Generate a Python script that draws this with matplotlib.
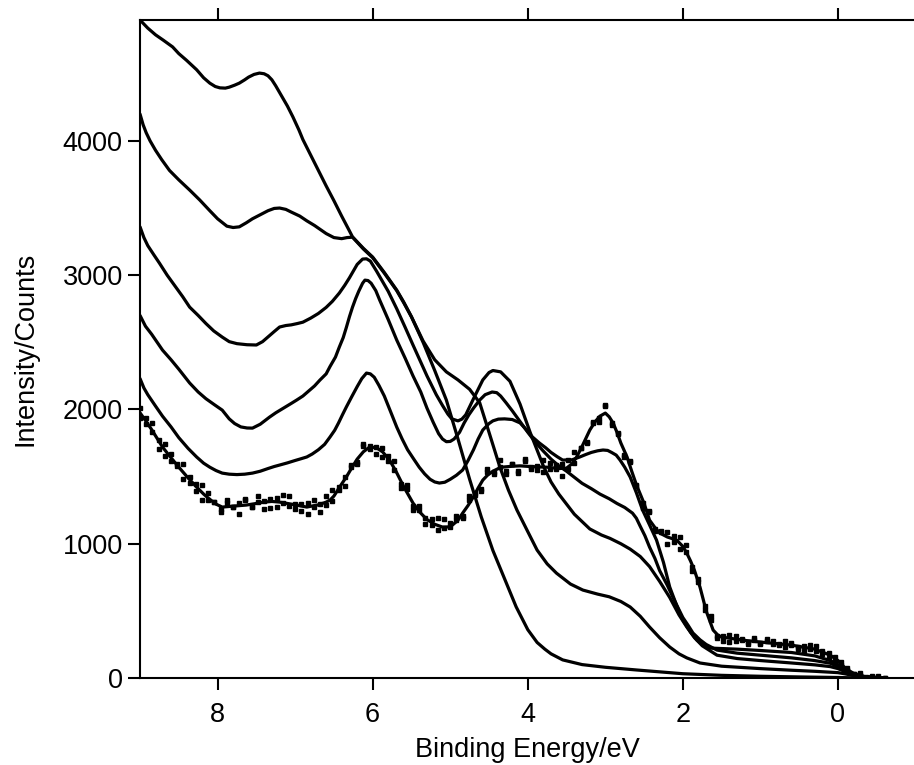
import matplotlib
matplotlib.use("Agg")
import matplotlib.pyplot as plt
import numpy as np

plt.rcParams['font.family'] = ['Liberation Sans', 'DejaVu Sans']

# spectra: (binding energy / eV, counts)
curve_a = [(9.0, 4900), (8.9, 4840), (8.8, 4790), (8.7, 4750), (8.58, 4700), (8.5, 4650),
           (8.4, 4600), (8.27, 4530), (8.18, 4470), (8.1, 4430), (8.03, 4405), (7.97, 4395),
           (7.9, 4393), (7.85, 4400), (7.78, 4415), (7.72, 4430), (7.65, 4455), (7.6, 4475),
           (7.53, 4495), (7.46, 4505), (7.4, 4500), (7.35, 4485), (7.3, 4455), (7.25, 4410),
           (7.2, 4360), (7.15, 4310), (7.1, 4260), (7.03, 4180), (6.95, 4080), (6.9, 4010),
           (6.8, 3895), (6.7, 3780), (6.6, 3665), (6.5, 3555), (6.4, 3440), (6.3, 3330),
           (6.26, 3285), (6.12, 3200), (6.0, 3135), (5.85, 3020), (5.69, 2889), (5.6, 2800),
           (5.5, 2690), (5.35, 2500), (5.2, 2290), (5.05, 2070), (4.9, 1780), (4.75, 1480),
           (4.6, 1200), (4.45, 950), (4.3, 740), (4.15, 530), (4.0, 360), (3.88, 265),
           (3.78, 215), (3.7, 180), (3.55, 135), (3.3, 100), (3.0, 80), (2.6, 60), (2.0, 32),
           (1.5, 20), (1.0, 13), (0.5, 8), (0.0, 4), (-0.3, 0), (-0.6, 0)]

curve_b = [(9.0, 4200), (8.96, 4120), (8.92, 4060), (8.87, 4000), (8.8, 3930), (8.72, 3860),
           (8.62, 3780), (8.5, 3710), (8.36, 3634), (8.23, 3560), (8.1, 3480), (8.0, 3420),
           (7.88, 3365), (7.8, 3355), (7.72, 3360), (7.63, 3390), (7.55, 3420), (7.45, 3450),
           (7.35, 3480), (7.27, 3497), (7.2, 3500), (7.12, 3490), (7.05, 3470), (6.94, 3440),
           (6.85, 3405), (6.75, 3370), (6.6, 3310), (6.5, 3280), (6.4, 3272), (6.33, 3280),
           (6.26, 3283), (6.12, 3195), (6.0, 3130), (5.85, 3015), (5.69, 2885), (5.6, 2795),
           (5.5, 2690), (5.35, 2510), (5.2, 2370), (5.05, 2280), (4.9, 2220), (4.75, 2150),
           (4.62, 2050), (4.5, 1830), (4.36, 1571), (4.25, 1400), (4.14, 1251), (4.0, 1090),
           (3.88, 953), (3.75, 850), (3.63, 781), (3.45, 700), (3.29, 655), (3.1, 625),
           (2.95, 605), (2.8, 570), (2.68, 529), (2.55, 460), (2.43, 380), (2.3, 300),
           (2.17, 231), (2.05, 180), (1.95, 150), (1.78, 112), (1.5, 88), (1.0, 70),
           (0.6, 58), (0.3, 50), (0.0, 40), (-0.1, 30), (-0.2, 18), (-0.35, 5), (-0.6, 0)]

curve_c = [(9.0, 3360), (8.95, 3280), (8.9, 3220), (8.82, 3150), (8.75, 3090), (8.65, 3000),
           (8.55, 2920), (8.45, 2840), (8.36, 2762), (8.25, 2700), (8.15, 2640), (8.05, 2585),
           (7.94, 2539), (7.85, 2505), (7.75, 2490), (7.62, 2482), (7.5, 2480), (7.42, 2505),
           (7.35, 2540), (7.27, 2580), (7.2, 2614), (7.12, 2625), (7.05, 2630), (6.97, 2640),
           (6.9, 2650), (6.8, 2680), (6.7, 2715), (6.6, 2760), (6.52, 2805), (6.43, 2867),
           (6.36, 2925), (6.3, 2980), (6.2, 3080), (6.13, 3120), (6.08, 3122), (6.03, 3105),
           (5.95, 3030), (5.88, 2960), (5.8, 2880), (5.69, 2750), (5.58, 2610), (5.48, 2480),
           (5.3, 2250), (5.18, 2110), (5.1, 2030), (5.03, 1965), (4.98, 1930), (4.9, 1915),
           (4.85, 1928), (4.8, 1960), (4.7, 2080), (4.58, 2220), (4.5, 2275), (4.45, 2290),
           (4.35, 2280), (4.23, 2210), (4.1, 2040), (3.97, 1830), (3.8, 1580), (3.7, 1460),
           (3.6, 1370), (3.4, 1220), (3.2, 1110), (3.05, 1065), (2.94, 1040), (2.8, 1000),
           (2.68, 960), (2.55, 905), (2.43, 830), (2.3, 720), (2.17, 600), (2.05, 470),
           (1.95, 380), (1.85, 300), (1.75, 240), (1.56, 170), (1.3, 145), (1.0, 130),
           (0.6, 112), (0.3, 98), (0.1, 85), (0.0, 70), (-0.1, 45), (-0.2, 25), (-0.35, 7),
           (-0.6, 0)]

curve_d = [(9.0, 2700), (8.93, 2620), (8.85, 2560), (8.71, 2442), (8.6, 2370), (8.5, 2300),
           (8.36, 2197), (8.25, 2130), (8.15, 2080), (8.04, 2035), (7.94, 1995), (7.85, 1930),
           (7.78, 1895), (7.7, 1870), (7.62, 1862), (7.55, 1861), (7.45, 1890), (7.33, 1943),
           (7.25, 1975), (7.15, 2010), (7.05, 2045), (6.98, 2070), (6.9, 2100), (6.82, 2140),
           (6.75, 2175), (6.68, 2219), (6.6, 2265), (6.55, 2320), (6.48, 2390), (6.43, 2465),
           (6.38, 2535), (6.34, 2610), (6.3, 2690), (6.26, 2762), (6.22, 2825), (6.18, 2880),
           (6.13, 2940), (6.1, 2963), (6.06, 2960), (6.02, 2940), (5.96, 2885), (5.91, 2815),
           (5.8, 2670), (5.69, 2517), (5.58, 2380), (5.48, 2250), (5.38, 2130), (5.3, 2010),
           (5.22, 1905), (5.15, 1820), (5.1, 1780), (5.05, 1760), (5.0, 1762), (4.95, 1780),
           (4.88, 1830), (4.82, 1900), (4.76, 1960), (4.7, 2010), (4.62, 2070), (4.55, 2110),
           (4.46, 2130), (4.4, 2125), (4.35, 2100), (4.28, 2050), (4.2, 1990), (4.1, 1910),
           (4.0, 1830), (3.9, 1755), (3.8, 1690), (3.7, 1630), (3.6, 1580), (3.5, 1540),
           (3.4, 1495), (3.3, 1450), (3.18, 1410), (3.07, 1370), (2.95, 1335), (2.85, 1300),
           (2.75, 1270), (2.65, 1228), (2.6, 1190), (2.55, 1130), (2.49, 1060), (2.43, 975),
           (2.36, 890), (2.3, 800), (2.2, 690), (2.13, 603), (2.06, 520), (2.0, 450),
           (1.93, 390), (1.87, 335), (1.78, 285), (1.7, 250), (1.56, 208), (1.3, 185),
           (1.0, 170), (0.6, 150), (0.3, 130), (0.1, 110), (0.0, 85), (-0.1, 50),
           (-0.2, 28), (-0.35, 8), (-0.6, 0)]

curve_e = [(9.0, 2230), (8.95, 2160), (8.9, 2110), (8.8, 2025), (8.71, 1950), (8.6, 1870),
           (8.5, 1790), (8.38, 1710), (8.27, 1646), (8.18, 1600), (8.1, 1570), (8.02, 1545),
           (7.94, 1526), (7.85, 1518), (7.75, 1515), (7.65, 1518), (7.55, 1526), (7.45, 1540),
           (7.35, 1560), (7.27, 1575), (7.2, 1586), (7.1, 1602), (7.0, 1620), (6.93, 1632),
           (6.85, 1646), (6.78, 1668), (6.7, 1700), (6.62, 1740), (6.55, 1795), (6.49, 1845),
           (6.44, 1900), (6.39, 1960), (6.34, 2018), (6.27, 2095), (6.2, 2170), (6.14, 2230),
           (6.08, 2271), (6.03, 2265), (5.98, 2240), (5.92, 2180), (5.85, 2100), (5.77, 1985),
           (5.69, 1869), (5.62, 1780), (5.55, 1700), (5.47, 1630), (5.4, 1570), (5.33, 1520),
           (5.26, 1480), (5.2, 1460), (5.14, 1452), (5.07, 1458), (5.0, 1480), (4.92, 1510),
           (4.84, 1549), (4.77, 1620), (4.7, 1700), (4.64, 1780), (4.58, 1847), (4.5, 1895),
           (4.45, 1915), (4.38, 1928), (4.3, 1930), (4.2, 1925), (4.1, 1900), (4.02, 1850),
           (3.95, 1800), (3.85, 1750), (3.77, 1715), (3.7, 1680), (3.62, 1648), (3.55, 1623),
           (3.43, 1625), (3.33, 1646), (3.25, 1665), (3.18, 1680), (3.1, 1692), (3.03, 1698),
           (2.97, 1695), (2.92, 1680), (2.86, 1660), (2.81, 1623), (2.75, 1570), (2.68, 1497),
           (2.6, 1380), (2.52, 1251), (2.43, 1140), (2.34, 1027), (2.25, 860), (2.17, 678),
           (2.08, 540), (2.0, 432), (1.9, 340), (1.82, 283), (1.74, 245), (1.65, 223),
           (1.3, 215), (1.0, 205), (0.6, 190), (0.3, 165), (0.1, 130), (0.0, 100),
           (-0.1, 55), (-0.2, 30), (-0.35, 8), (-0.6, 0)]

# smooth line through the measured (dotted) spectrum
fit_line = [(9.0, 1975), (8.92, 1910), (8.85, 1850), (8.71, 1720), (8.6, 1640), (8.5, 1570),
            (8.38, 1490), (8.27, 1422), (8.18, 1370), (8.1, 1330), (8.02, 1295), (7.94, 1273),
            (7.8, 1280), (7.63, 1288), (7.5, 1300), (7.4, 1310), (7.3, 1315), (7.2, 1310),
            (7.1, 1300), (7.0, 1290), (6.85, 1273), (6.7, 1290), (6.6, 1310), (6.55, 1325),
            (6.5, 1355), (6.45, 1400), (6.4, 1445), (6.34, 1497), (6.27, 1565), (6.2, 1630),
            (6.12, 1685), (6.04, 1720), (5.95, 1715), (5.87, 1683), (5.78, 1620), (5.7, 1540),
            (5.6, 1425), (5.48, 1303), (5.4, 1240), (5.3, 1180), (5.2, 1145), (5.1, 1124),
            (5.03, 1125), (4.97, 1140), (4.9, 1175), (4.84, 1228), (4.77, 1285), (4.7, 1350),
            (4.64, 1415), (4.58, 1474), (4.52, 1510), (4.45, 1540), (4.38, 1560), (4.32, 1571),
            (4.2, 1577), (4.1, 1580), (3.97, 1575), (3.85, 1572), (3.75, 1570), (3.6, 1560),
            (3.5, 1563), (3.43, 1595), (3.37, 1646), (3.3, 1725), (3.2, 1847), (3.13, 1910),
            (3.07, 1950), (3.0, 1973), (2.95, 1945), (2.9, 1899), (2.85, 1830), (2.8, 1750),
            (2.72, 1646), (2.66, 1540), (2.6, 1440), (2.55, 1370), (2.5, 1300), (2.43, 1176),
            (2.36, 1120), (2.3, 1080), (2.2, 1050), (2.08, 1027), (2.0, 980), (1.95, 930),
            (1.9, 870), (1.85, 800), (1.78, 678), (1.74, 590), (1.7, 500), (1.65, 420),
            (1.61, 357), (1.55, 320), (1.5, 305), (1.2, 280), (0.9, 262), (0.6, 245),
            (0.3, 215), (0.1, 170), (0.0, 130), (-0.1, 70), (-0.2, 35), (-0.35, 10),
            (-0.6, 0)]

# raw data points (scatter around the fit)
dots_e = [9.00, 8.92, 8.84, 8.76, 8.68, 8.60, 8.52, 8.44, 8.36, 8.28, 8.20, 8.12, 8.04, 7.96,
          7.88, 7.80, 7.72, 7.64, 7.56, 7.48, 7.40, 7.32, 7.24, 7.16, 7.08, 7.00, 6.92, 6.84,
          6.76, 6.68, 6.60, 6.52, 6.44, 6.36, 6.28, 6.20, 6.12, 6.04, 5.96, 5.88, 5.80, 5.72,
          5.64, 5.56, 5.48, 5.40, 5.32, 5.24, 5.16, 5.08, 5.00, 4.92, 4.84, 4.76, 4.68, 4.60,
          4.52, 4.44, 4.36, 4.28, 4.20, 4.12, 4.04, 3.96, 3.88, 3.80, 3.72, 3.64, 3.56, 3.48,
          3.40, 3.32, 3.24, 3.16, 3.08, 3.00, 2.92, 2.84, 2.76, 2.68, 2.60, 2.52, 2.44, 2.36,
          2.28, 2.20, 2.12, 2.04, 1.96, 1.88, 1.80, 1.72, 1.64, 1.56, 1.48, 1.40, 1.32, 1.24,
          1.16, 1.08, 1.00, 0.92, 0.84, 0.76, 0.68, 0.60, 0.52, 0.44, 0.36, 0.28, 0.20, 0.12,
          0.04, -0.04, -0.12, -0.20, -0.28, -0.36, -0.44, -0.52, -0.60]
dots_a = [2010, 1888, 1896, 1771, 1654, 1666, 1579, 1591, 1450, 1443, 1329, 1381, 1309, 1255,
          1326, 1270, 1304, 1323, 1275, 1357, 1315, 1269, 1337, 1301, 1358, 1260, 1296, 1219,
          1323, 1295, 1285, 1397, 1399, 1499, 1589, 1610, 1740, 1725, 1671, 1712, 1619, 1617,
          1445, 1404, 1248, 1280, 1194, 1138, 1191, 1116, 1156, 1209, 1208, 1353, 1376, 1408,
          1535, 1537, 1621, 1543, 1592, 1524, 1618, 1575, 1548, 1621, 1558, 1583, 1596, 1556,
          1682, 1710, 1755, 1904, 1937, 2033, 1884, 1825, 1643, 1617, 1440, 1303, 1244, 1110,
          1095, 1085, 1015, 1052, 942, 794, 738, 540, 465, 295, 311, 270, 310, 283,
          266, 298, 263, 273, 277, 244, 278, 247, 215, 241, 219, 241, 178, 183,
          118, 116, 63, 29, 34, 7, 11, 12, 2]
dots_b = [1935, 1938, 1831, 1706, 1744, 1616, 1594, 1481, 1500, 1393, 1439, 1326, 1314, 1240,
          1306, 1270, 1224, 1333, 1270, 1312, 1260, 1334, 1277, 1361, 1283, 1295, 1241, 1304,
          1273, 1235, 1355, 1322, 1419, 1429, 1574, 1595, 1730, 1705, 1721, 1647, 1654, 1547,
          1415, 1434, 1278, 1250, 1144, 1183, 1106, 1181, 1121, 1179, 1188, 1328, 1361, 1393,
          1555, 1517, 1571, 1523, 1597, 1544, 1633, 1560, 1578, 1531, 1598, 1553, 1501, 1621,
          1602, 1715, 1750, 1899, 1907, 2028, 1899, 1815, 1658, 1607, 1430, 1268, 1239, 1095,
          1085, 1000, 1055, 962, 992, 824, 718, 505, 435, 315, 273, 320, 278, 288,
          253, 283, 250, 291, 251, 256, 230, 260, 232, 199, 243, 199, 198, 150,
          156, 97, 77, 31, 23, 1, 14, 1, 0]

energy_ticks = [8, 6, 4, 2, 0]
count_ticks = [0, 1000, 2000, 3000, 4000]

fig = plt.figure(figsize=(9.14, 7.65), dpi=100)
ax = fig.add_axes([0.1532, 0.1137, 0.8468, 0.8601])

for c in [curve_a, curve_b, curve_c, curve_d, curve_e, fit_line]:
    e, i = zip(*c)
    ax.plot(e, i, color='black', lw=2.3, solid_joinstyle='round', solid_capstyle='round')

ax.plot(dots_e, dots_a, ls='none', marker='s', ms=2.2, color='black')
ax.plot(dots_e, dots_b, ls='none', marker='s', ms=2.2, color='black')

ax.set_xlim(9, -0.98)
ax.set_ylim(0, 4900)
ax.set_xticks(energy_ticks)
ax.set_yticks(count_ticks)

ax.spines['right'].set_visible(False)
for s in ['left', 'top', 'bottom']:
    ax.spines[s].set_linewidth(1.5)

ax.tick_params(axis='both', direction='out', length=8.5, width=1.5,
               labelsize=19.5, pad=4)
ax.tick_params(axis='x', top=True, labeltop=False, pad=9)

ax.set_xlabel('Binding Energy/eV', fontsize=19.5, labelpad=6)
ax.set_ylabel('Intensity/Counts', fontsize=19.5, labelpad=17)

fig.savefig('out.png', dpi=100)
